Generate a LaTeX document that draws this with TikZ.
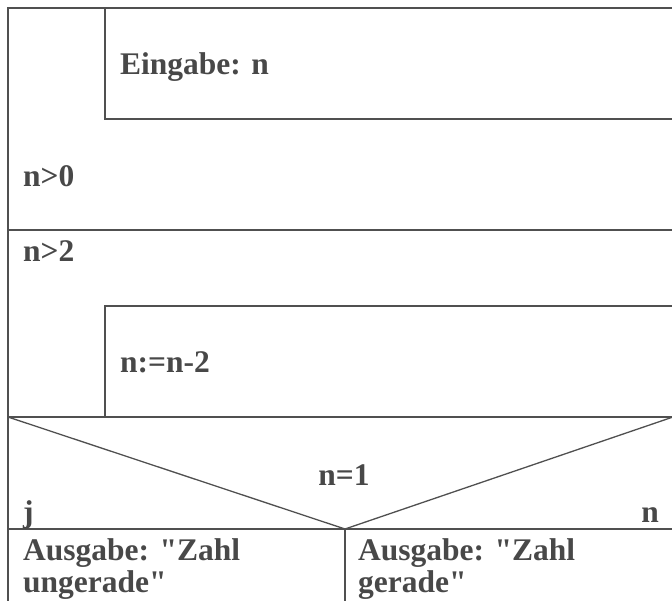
\documentclass[tikz,border=0pt]{standalone}
\usepackage{fontspec}
\newfontfamily\nsschrift{Liberation Serif}
\usepackage{xcolor}
\usetikzlibrary{positioning}

\definecolor{strichgrau}{HTML}{505050}
\definecolor{schriftgrau}{HTML}{484848}

\begin{document}
\begin{tikzpicture}[x=1pt, y=-1pt,
  struktur/.style={draw=strichgrau, line width=2.2pt},
  diagonale/.style={draw=strichgrau, line width=1.3pt},
  nstext/.style={anchor=base west, inner sep=0pt, text=schriftgrau,
    font=\nsschrift\fontsize{31.5}{32}\selectfont\bfseries}]

\useasboundingbox (0,0) rectangle (672,601);

% Eckpunkte
\coordinate (obenlinks) at (8,8);
\coordinate (untenlinks) at (8,602);
\coordinate (spitze) at (345,529);

% Rahmen
\draw[struktur] (untenlinks) -- (obenlinks) -- (673,8);

% Schleife n>0
\draw[struktur] (105,8) -- (105,119) -- (673,119);
\draw[struktur] (8,230) -- (673,230);

% Schleife n>2
\draw[struktur] (673,306) -- (105,306) -- (105,417);
\draw[struktur] (8,417) -- (673,417);

% Verzweigung n=1
\draw[diagonale] (8,417) -- (spitze) -- (673,417);
\draw[struktur] (8,529) -- (673,529);
\draw[struktur] (spitze) -- (345,602);

\node[nstext] (eingabe) at (120,75) {Eingabe: n};
\node[nstext] (bedn0) at (23,187) {n>0};
\node[nstext] (bedn2) at (23,262) {n>2};
\node[nstext] (zuweisung) at (120,373) {n:=n-2};
\node[nstext, anchor=base] (bedn1) at (344,485) {n=1};
\node[nstext] (ja) at (23,522) {j};
\node[nstext, anchor=base east] (nein) at (659,522) {n};
% Grundlinie der zweiten Zeile
\node[nstext, align=left] (ausgabej) at (23,592) {Ausgabe: "Zahl\\ungerade"};
\node[nstext, align=left] (ausgaben) at (358,592) {Ausgabe: "Zahl\\gerade"};
\end{tikzpicture}
\end{document}
